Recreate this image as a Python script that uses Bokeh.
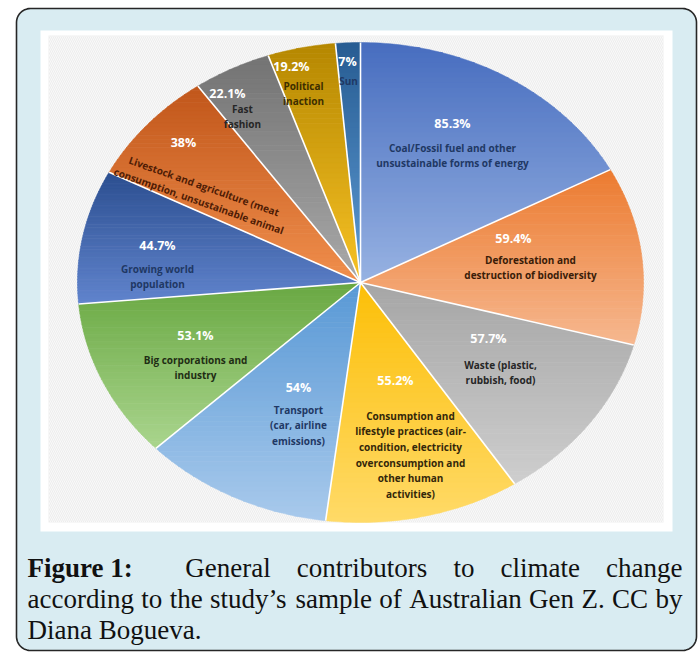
import numpy as np
from bokeh.plotting import figure
from bokeh.models import Range1d
from bokeh.core.properties import value
from bokeh.embed import file_html
from bokeh.resources import INLINE

# ---------------------------------------------------------------- data
CATEGORIES = [
    "Coal/Fossil fuel and other\nunsustainable forms of energy",
    "Deforestation and\ndestruction of biodiversity",
    "Waste (plastic,\nrubbish, food)",
    "Consumption and\nlifestyle practices (air-\ncondition, electricity\noverconsumption and\nother human\nactivities)",
    "Transport\n(car, airline\nemissions)",
    "Big corporations and\nindustry",
    "Growing world\npopulation",
    "Livestock and agriculture (meat\nconsumption, unsustainable animal",
    "Fast\nfashion",
    "Political\ninaction",
    "Sun",
]
VALUES = [85.3, 59.4, 57.7, 55.2, 54, 53.1, 44.7, 38, 22.1, 19.2, 7]

CAPTION_LINES = [
    [("Figure 1:", True), ("General", False), ("contributors", False), ("to", False),
     ("climate", False), ("change", False)],
    [("according", False), ("to", False), ("the", False), ("study\u2019s", False),
     ("sample", False), ("of", False), ("Australian", False), ("Gen", False),
     ("Z.", False), ("CC", False), ("by", False)],
    [("Diana Bogueva.", False)],
]

# ---------------------------------------------------------------- styles
TOP_COLORS = ["#476dbf", "#ec7b30", "#a6a6a6", "#fcbf08", "#5898d5", "#69a842",
              "#2c4f90", "#c0561a", "#737373", "#b58700", "#275c92"]
BOTTOM_COLORS = ["#97b2e2", "#f6b890", "#cecece", "#ffda68", "#a9caec", "#aad58e",
                 "#6184cd", "#f18f4d", "#a9a9a9", "#f7c226", "#5e9bd4"]
NAME_COLORS = ["#1f3864", "#3a1c08", "#262626", "#33270a", "#1f3864", "#1f2d14",
               "#1f3864", "#4f1c05", "#262626", "#3d2e00", "#1f3864"]

# label anchors (screen px): percentage centres, name-block top centres
PCT_XY = [(452, 123), (513, 238), (488, 338), (395, 380), (298, 387), (195, 335),
          (157, 245), (183, 142), (227, 93), (291, 66), (347, 61)]
NAME_XY = [(452, 140), (530, 252), (500, 357), (410, 408), (298, 402), (195, 352),
           (157, 261), (206, 179), (242, 101), (303, 78), (348, 73)]
NAME_ANGLE = [0, 0, 0, 0, 0, 0, 0, -19.5, 0, 0, 0]

W, H = 699, 652
CX, CY, RX, RY = 360, 282, 283, 240
BANDS = 48

p = figure(width=W, height=H, x_range=Range1d(0, W), y_range=Range1d(H, 0),
           output_backend="svg", toolbar_location=None, min_border=0,
           x_axis_location=None, y_axis_location=None)
p.grid.visible = False
p.outline_line_color = None
p.background_fill_color = "white"
p.border_fill_color = "white"


def rounded_rect(x0, y0, x1, y1, r, n=14):
    xs, ys = [], []
    for cx, cy, a0, a1 in [(x1 - r, y0 + r, -90, 0), (x1 - r, y1 - r, 0, 90),
                           (x0 + r, y1 - r, 90, 180), (x0 + r, y0 + r, 180, 270)]:
        t = np.radians(np.linspace(a0, a1, n))
        xs += list(cx + r * np.cos(t))
        ys += list(cy + r * np.sin(t))
    return xs, ys


# framed caption box and picture panel
bx, by = rounded_rect(16, 8, 696, 650, 14)
p.patch(bx, by, fill_color="#d9ecf2", line_color="#262626", line_width=1.6)
p.quad(left=40, right=672, top=30, bottom=531, fill_color="white", line_color=None)
p.quad(left=48, right=663, top=35, bottom=522, fill_color="#ededed", line_color=None,
       hatch_pattern="\\", hatch_color="#f9f9f9", hatch_scale=4, hatch_weight=1)


def hex_rgb(h):
    h = h.lstrip("#")
    return np.array([int(h[i:i + 2], 16) for i in (0, 2, 4)], dtype=float)


def mix(c0, c1, t):
    c = hex_rgb(c0) * (1 - t) + hex_rgb(c1) * t
    return "#%02x%02x%02x" % tuple(int(round(v)) for v in c)


def clip_band(pts, y0, y1):
    def clip(pts, keep, yc):
        out = []
        for i in range(len(pts)):
            cur, prev = pts[i], pts[i - 1]
            if keep(cur):
                if not keep(prev):
                    t = (yc - prev[1]) / (cur[1] - prev[1])
                    out.append((prev[0] + t * (cur[0] - prev[0]), yc))
                out.append(cur)
            elif keep(prev):
                t = (yc - prev[1]) / (cur[1] - prev[1])
                out.append((prev[0] + t * (cur[0] - prev[0]), yc))
        return out
    pts = clip(pts, lambda q: q[1] >= y0, y0)
    if pts:
        pts = clip(pts, lambda q: q[1] <= y1, y1)
    return pts


# pie slices, clockwise from 12 o'clock, each with a vertical gradient
vals = np.array(VALUES, dtype=float)
ends = np.cumsum(vals) / vals.sum() * 2 * np.pi
starts = ends - vals / vals.sum() * 2 * np.pi

band_xs, band_ys, band_cols = [], [], []
for i in range(len(vals)):
    n = max(8, int(np.degrees(ends[i] - starts[i])) + 2)
    t = np.linspace(starts[i], ends[i], n)
    pts = [(CX, CY)] + list(zip(CX + RX * np.sin(t), CY - RY * np.cos(t)))
    ys = [q[1] for q in pts]
    y_lo, y_hi = min(ys), max(ys)
    h = (y_hi - y_lo) / BANDS
    for k in range(BANDS):
        seg = clip_band(pts, y_lo + k * h, y_lo + (k + 1) * h + 0.4)
        if len(seg) < 3:
            continue
        band_xs.append([q[0] for q in seg])
        band_ys.append([q[1] for q in seg])
        band_cols.append(mix(TOP_COLORS[i], BOTTOM_COLORS[i], (k + 0.5) / BANDS))

p.patches(band_xs, band_ys, fill_color=band_cols, line_color=band_cols, line_width=0.5)

# white separators between slices
p.segment(x0=[CX] * len(vals), y0=[CY] * len(vals),
          x1=list(CX + RX * np.sin(ends)), y1=list(CY - RY * np.cos(ends)),
          line_color="white", line_width=1.6)

# percentage labels
pct_text = [f"{v:g}%" for v in VALUES]
p.text(x=[q[0] for q in PCT_XY], y=[q[1] for q in PCT_XY], text=pct_text,
       text_font=value("Open Sans"), text_font_style="bold", text_font_size="12.5px",
       text_color="white", text_align="center", text_baseline="middle")

# category labels
p.text(x=[q[0] for q in NAME_XY], y=[q[1] for q in NAME_XY], text=CATEGORIES,
       angle=np.radians(NAME_ANGLE), text_font=value("Open Sans"), text_font_style="bold",
       text_font_size="10px", text_color=NAME_COLORS, text_align="center",
       text_baseline="top", text_line_height=1.12)

# caption, justified between the box margins
TNR = {"A": 722, "B": 667, "C": 667, "D": 722, "F": 556, "G": 722, "Z": 611,
       "a": 444, "b": 500, "c": 444, "d": 500, "e": 444, "f": 333, "g": 500,
       "h": 500, "i": 278, "l": 278, "m": 778, "n": 500, "o": 500, "p": 500,
       "r": 333, "s": 389, "t": 278, "u": 500, "v": 500, "y": 500, "1": 500,
       ":": 278, ".": 250, "\u2019": 333, " ": 250}
TNR_BOLD = dict(TNR, F=611, u=556, r=444, **{":": 333})

CAP_SIZE = 27
CAP_X0, CAP_X1 = 27, 682
CAP_BASE = [567, 598, 629]


def word_width(s, bold):
    table = TNR_BOLD if bold else TNR
    return sum(table.get(ch, 500) for ch in s) / 1000 * CAP_SIZE


for li, words in enumerate(CAPTION_LINES):
    y = CAP_BASE[li]
    if li == len(CAPTION_LINES) - 1:
        xs = [CAP_X0]
        aligns = ["left"]
    else:
        widths = [word_width(w, b) for w, b in words]
        weights = [2 if (li == 0 and k == 0) else 1 for k in range(len(words) - 1)]
        gap = (CAP_X1 - CAP_X0 - sum(widths)) / sum(weights)
        xs, x = [], CAP_X0
        for k, wd in enumerate(widths):
            xs.append(x)
            x += wd + (gap * weights[k] if k < len(weights) else 0)
        xs[-1] = CAP_X1
        aligns = ["left"] * (len(words) - 1) + ["right"]
    for (w, b), x, a in zip(words, xs, aligns):
        p.text(x=[x], y=[y], text=[w], text_font=value("Liberation Serif"),
               text_font_style="bold" if b else "normal",
               text_font_size=f"{CAP_SIZE}px", text_color="#111111",
               text_align=a, text_baseline="alphabetic")

open("out.html", "w").write(file_html(p, INLINE))
